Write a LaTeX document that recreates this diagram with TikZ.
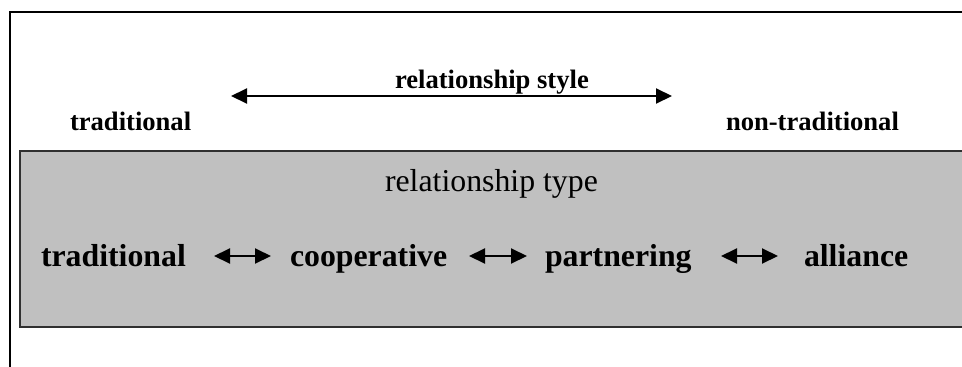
\documentclass[tikz,border=0pt]{standalone}
\usepackage{fontspec}
\setmainfont{Liberation Serif}
\usepackage{xcolor}
\usetikzlibrary{arrows.meta,positioning}

\definecolor{boxgray}{HTML}{C0C0C0}
\definecolor{boxedge}{HTML}{303030}

\begin{document}
\begin{tikzpicture}[
    x=1pt, y=-1pt,
    every node/.style={inner sep=0pt, outer sep=0pt},
    smallbold/.style={font=\fontsize{26.6}{30}\selectfont\bfseries},
    bigbold/.style={font=\fontsize{31.8}{36}\selectfont\bfseries},
    bigplain/.style={font=\fontsize{31.8}{36}\selectfont},
    frameline/.style={line width=2pt},
    typebox/.style={
        rectangle, fill=boxgray, draw=boxedge, line width=1.3pt,
        minimum width=944pt, minimum height=176pt
    },
    dblarr/.style={{Triangle[length=16pt,width=15pt]}-{Triangle[length=16pt,width=15pt]}, line width=2pt}
]
\useasboundingbox (0,0) rectangle (962,367);

% --- Outer frame ---
\draw[frameline] (9.5,370) -- (9.5,11.5) -- (965,11.5);

% --- Relationship style scale ---
\node[smallbold, anchor=base west] (styletxt) at (395,88) {relationship style};
\node[smallbold, anchor=base west] (tradtop) at (70,130) {traditional};
\node[smallbold, anchor=base west] (nontrad) at (726,130) {non-traditional};
\coordinate (styleL) at (231,96);
\coordinate (styleR) at (672,96);
\draw[dblarr] (styleL) -- (styleR);

% --- Relationship type box ---
\node[typebox, anchor=north west] (typebox) at (20,151) {};
\node[bigplain, anchor=base west] (typetxt) at (385,191) {relationship type};

% --- Types ---
\node[bigbold, anchor=base west] (trad) at (41,266) {traditional};
\node[bigbold, anchor=base west] (coop) at (290,266) {cooperative};
\node[bigbold, anchor=base west] (partner) at (545,266) {partnering};
\node[bigbold, anchor=base west] (alliance) at (804,266) {alliance};

% --- Arrows between types ---
\coordinate (rowL1) at (214,256);
\coordinate (rowR1) at (271,256);
\coordinate (rowL2) at (469,256);
\coordinate (rowR2) at (527,256);
\coordinate (rowL3) at (721,256);
\coordinate (rowR3) at (778,256);
\draw[dblarr] (rowL1) -- (rowR1);
\draw[dblarr] (rowL2) -- (rowR2);
\draw[dblarr] (rowL3) -- (rowR3);

\end{tikzpicture}
\end{document}
